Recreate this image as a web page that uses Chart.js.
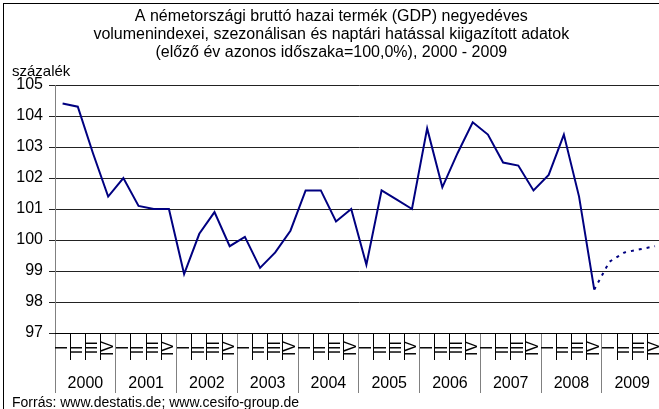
<!DOCTYPE html>
<html>
<head>
<meta charset="utf-8">
<script src="https://cdn.jsdelivr.net/npm/chart.js@4"></script>
<style>
  body { margin: 0; overflow: hidden; background: #fff; }
  #wrap { position: relative; width: 672px; height: 409px; }
  #frame { position: absolute; left: 3px; top: 3px; width: 720px; height: 440px; border: 1px solid #000; pointer-events: none; }
</style>
</head>
<body>
<div id="wrap">
  <canvas id="gdpChart"></canvas>
  <div id="frame"></div>
</div>
<script>
// évek és negyedévek (a szóközök a függőleges középre igazítás miatt)
const years = ['2000', '2001', '2002', '2003', '2004', '2005', '2006', '2007', '2008', '2009'];
const quarters = [' I ', ' II ', 'III', 'IV'];

// tény adatok 2000 I - 2008 IV
const gdpIndex = [104.4, 104.3, 102.8, 101.4, 102.0, 101.1, 101.0, 101.0,
  98.9, 100.2, 100.9, 99.8, 100.1, 99.1, 99.6, 100.3,
  101.6, 101.6, 100.6, 101.0, 99.2, 101.6, 101.3, 101.0,
  103.6, 101.7, 102.8, 103.8, 103.4, 102.5, 102.4, 101.6,
  102.1, 103.4, 101.4, 98.4];
// előrejelzés 2009
const forecast2009 = [99.3, 99.6, 99.7, 99.8];

const yTicks = { min: 97, max: 105, step: 1 };

const quarterLabels = years.flatMap(() => quarters);
const actualData = gdpIndex.concat(forecast2009.map(() => null));
const forecastData = gdpIndex.map((v, i) => i === gdpIndex.length - 1 ? v : null).concat(forecast2009);

const textPlugin = {
  id: 'extraText',
  afterDraw(chart) {
    const ctx = chart.ctx;
    ctx.save();
    ctx.fillStyle = '#000';
    ctx.textBaseline = 'middle';
    ctx.textAlign = 'left';
    ctx.font = '15px "Liberation Sans", Arial, sans-serif';
    ctx.fillText('százalék', 12, 72);
    ctx.font = '14px "Liberation Sans", Arial, sans-serif';
    ctx.fillText('Forrás: www.destatis.de; www.cesifo-group.de', 12, 403);
    ctx.restore();
  }
};

Chart.defaults.font.family = '"Liberation Sans", Arial, sans-serif';
Chart.defaults.color = '#000';

new Chart(document.getElementById('gdpChart'), {
  type: 'line',
  data: {
    labels: quarterLabels,
    datasets: [{
      label: 'tény',
      data: actualData,
      borderColor: '#000080',
      borderWidth: 2,
      pointRadius: 0,
      tension: 0
    }, {
      label: 'előrejelzés',
      data: forecastData,
      borderColor: '#000080',
      borderWidth: 2,
      borderDash: [3, 5],
      pointRadius: 0,
      tension: 0
    }]
  },
  options: {
    responsive: true,
    maintainAspectRatio: false,
    animation: false,
    layout: { padding: { left: 0, right: 9.4, top: 0, bottom: 0 } },
    plugins: {
      legend: { display: false },
      tooltip: { enabled: false },
      title: {
        display: true,
        text: ['A németországi bruttó hazai termék (GDP) negyedéves',
               'volumenindexei, szezonálisan és naptári hatással kiigazított adatok',
               '(előző év azonos időszaka=100,0%), 2000 - 2009'],
        font: { size: 16, weight: 'normal', lineHeight: 1.125 },
        color: '#000',
        padding: { top: 8, bottom: 23 }
      }
    },
    scales: {
      y: {
        min: yTicks.min,
        max: yTicks.max,
        ticks: { stepSize: yTicks.step, font: { size: 16 }, padding: 6, color: '#000' },
        grid: { color: '#222', tickLength: 6, tickColor: '#222' },
        border: { display: true, color: '#808080' },
        afterFit(s) { s.width = 55; }
      },
      x: {
        offset: true,
        ticks: { autoSkip: false, minRotation: 90, maxRotation: 90, font: { size: 16 }, padding: -19, color: '#000' },
        grid: {
          drawOnChartArea: false,
          tickLength: 27,
          offset: true,
          color: (c) => c.index % 4 === 0 ? '#808080' : '#000'
        },
        border: { display: true, color: '#000' },
        afterFit(s) { s.height = 27; }
      },
      x2: {
        type: 'category',
        position: 'bottom',
        weight: 1,
        labels: years,
        offset: true,
        ticks: { autoSkip: false, maxRotation: 0, font: { size: 16 }, padding: -19, color: '#000' },
        grid: { drawOnChartArea: false, tickLength: 33, color: '#808080', offset: true },
        border: { display: false },
        afterFit(s) { s.height = 49; }
      }
    }
  },
  plugins: [textPlugin]
});
</script>
</body>
</html>
